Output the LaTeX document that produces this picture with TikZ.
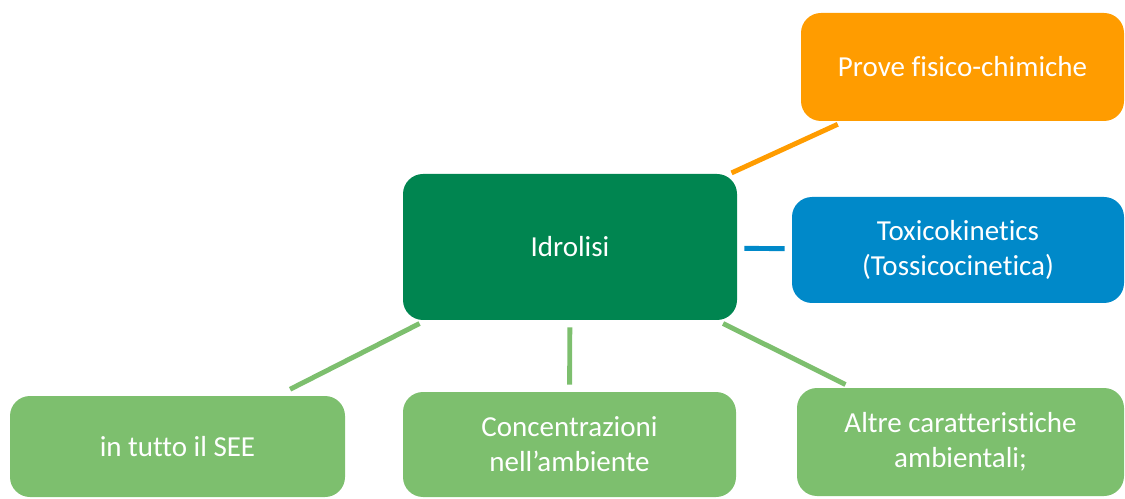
\documentclass[tikz,border=0pt]{standalone}
\usepackage{fontspec}
\setmainfont[Ligatures={NoCommon}]{Carlito}
\usepackage{xcolor}
\usepackage{tikz}
\usetikzlibrary{positioning,calc}

\definecolor{orangeBox}{RGB}{255,156,0}
\definecolor{blueBox}{RGB}{0,137,201}
\definecolor{darkGreen}{RGB}{0,133,80}
\definecolor{lightGreen}{RGB}{125,191,110}

\begin{document}
\begin{tikzpicture}[
            every node/.style={font=\fontsize{16.5}{20}\selectfont, text=white, align=center},
            bx/.style={rounded corners=0.4cm, inner sep=0pt},
            ln/.style={line width=2.8pt, shorten <=4pt, shorten >=4pt},
        ]
            \useasboundingbox (0,0) rectangle (22.5,9.96);
            \node[bx, fill=darkGreen, minimum width=6.68cm, minimum height=2.92cm] (idro) at (11.40,5.02) {Idrolisi};
            \node[bx, fill=orangeBox, minimum width=6.46cm, minimum height=2.16cm] (prove) at (19.25,8.62) {Prove fisico-chimiche};
            \node[bx, fill=blueBox, minimum width=6.64cm, minimum height=2.12cm] (toxi) at (19.16,4.96) {Toxicokinetics\\(Tossicocinetica)};
            \node[bx, fill=lightGreen, minimum width=6.70cm, minimum height=2.02cm] (see) at (3.55,1.03) {in tutto il SEE};
            \node[bx, fill=lightGreen, minimum width=6.66cm, minimum height=2.10cm] (conc) at (11.39,1.07) {Concentrazioni\\nell’ambiente};
            \node[bx, fill=lightGreen, minimum width=6.54cm, minimum height=2.16cm] (altre) at (19.21,1.12) {Altre caratteristiche\\ambientali;};
            \draw[ln, orangeBox, shorten <=1pt] (idro) -- (prove);
            \draw[ln, blueBox] (idro) -- (toxi);
            \draw[ln, lightGreen, shorten >=8pt] (idro) -- (see);
            \draw[ln, lightGreen] (idro) -- (conc);
            \draw[ln, lightGreen] (idro) -- (altre);
        \end{tikzpicture}
\end{document}
